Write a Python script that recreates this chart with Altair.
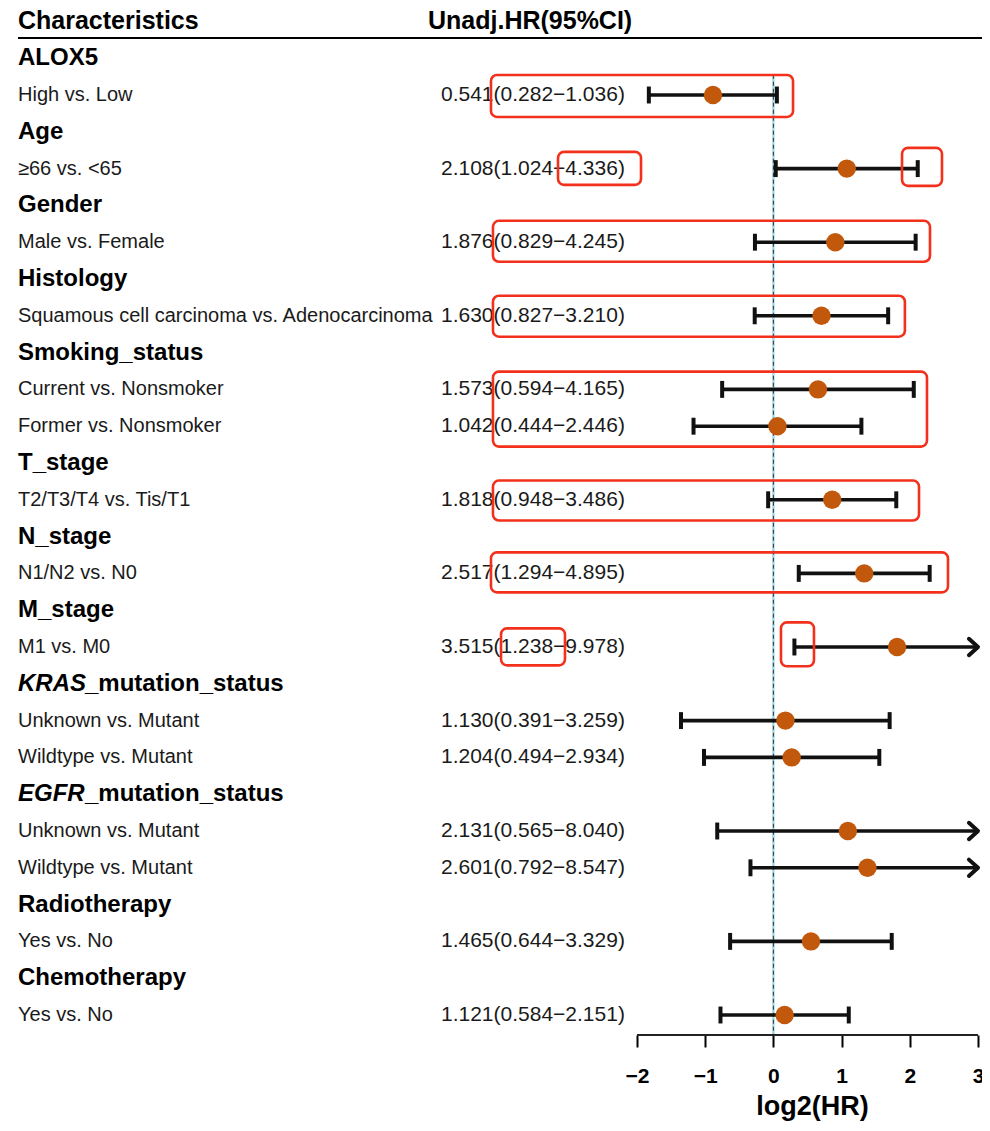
import altair as alt
import numpy as np
import pandas as pd

# ---------------- data ----------------
group_rows = [0, 2, 4, 6, 8, 11, 13, 15, 17, 20, 23, 25]
group_names = ["ALOX5", "Age", "Gender", "Histology", "Smoking_status", "T_stage",
               "N_stage", "M_stage", "", "", "Radiotherapy", "Chemotherapy"]
italic_rows = [17, 20]
italic_prefix = ["KRAS", "EGFR"]
italic_rest = ["_mutation_status", "_mutation_status"]

item_rows = [1, 3, 5, 7, 9, 10, 12, 14, 16, 18, 19, 21, 22, 24, 26]
item_labels = ["High vs. Low", "≥66 vs. <65", "Male vs. Female",
               "Squamous cell carcinoma vs. Adenocarcinoma",
               "Current vs. Nonsmoker", "Former vs. Nonsmoker",
               "T2/T3/T4 vs. Tis/T1", "N1/N2 vs. N0", "M1 vs. M0",
               "Unknown vs. Mutant", "Wildtype vs. Mutant",
               "Unknown vs. Mutant", "Wildtype vs. Mutant",
               "Yes vs. No", "Yes vs. No"]
hr = [0.541, 2.108, 1.876, 1.630, 1.573, 1.042, 1.818, 2.517, 3.515,
      1.130, 1.204, 2.131, 2.601, 1.465, 1.121]
lower = [0.282, 1.024, 0.829, 0.827, 0.594, 0.444, 0.948, 1.294, 1.238,
         0.391, 0.494, 0.565, 0.792, 0.644, 0.584]
upper = [1.036, 4.336, 4.245, 3.210, 4.165, 2.446, 3.486, 4.895, 9.978,
         3.259, 2.934, 8.040, 8.547, 3.329, 2.151]

header_names = ["Characteristics", "Unadj.HR(95%CI)"]
tick_values = [-2, -1, 0, 1, 2, 3]

# highlight boxes (x in log2 units of the shared scale, y in row units)
box_x1 = [-4.141, -3.158, 1.886, -4.112, -4.112, -4.112, -4.112, -4.141, -3.994, 0.111]
box_x2 = [0.288, -1.941, 2.472, 2.296, 1.928, 2.252, 2.135, 2.560, -3.056, 0.595]
box_y1 = [0.456, 2.546, 2.437, 4.419, 6.455, 8.518, 11.477, 13.430, 15.494, 15.331]
box_y2 = [1.596, 3.442, 3.469, 5.532, 7.568, 10.554, 12.563, 14.516, 16.499, 16.525]

# ---------------- layout ----------------
PX_PER_UNIT = 68.2
XMAX = 3.0
XMIN = -2 - 629 / PX_PER_UNIT
W = (XMAX - XMIN) * PX_PER_UNIT
ROW0, ROWH = 58.2, 36.8
H = 1027
YMIN = (8 - ROW0) / ROWH
YMAX = (8 + H - ROW0) / ROWH

FONT = "Liberation Sans"
xs = alt.Scale(domain=[XMIN, XMAX], nice=False, zero=False)
ys = alt.Scale(domain=[YMIN, YMAX], nice=False, zero=False, reverse=True)
xax = alt.Axis(values=tick_values, domain=False, grid=False, tickSize=12, tickWidth=2,
               tickColor="black", labelFont=FONT, labelFontSize=21, labelFontWeight="bold",
               labelColor="black", labelPadding=18, labelFlush=False, labelOverlap=False,
               format="d", title="log2(HR)", titleFont=FONT, titleFontSize=27,
               titleFontWeight="bold", titleColor="black", titleX=804, titleY=71,
               titleBaseline="middle")
yax = None

items = pd.DataFrame({"row": item_rows, "label": item_labels, "hr": hr,
                      "lo": lower, "hi": upper})
items["lhr"] = np.log2(items["hr"])
items["llo"] = np.log2(items["lo"])
items["lhi_raw"] = np.log2(items["hi"])
items["arrow"] = items["lhi_raw"] > XMAX
items["lhi"] = items["lhi_raw"].clip(upper=XMAX)
items["txt"] = [f"{h:.3f}({l:.3f}\u2212{u:.3f})" for h, l, u in zip(hr, lower, upper)]

caps = pd.concat([
    pd.DataFrame({"row": items["row"], "x": items["llo"]}),
    pd.DataFrame({"row": items.loc[~items["arrow"], "row"], "x": items.loc[~items["arrow"], "lhi"]}),
])
caps["y1"] = caps["row"] - 0.23
caps["y2"] = caps["row"] + 0.23
arrows = items[items["arrow"]].copy()

groups = pd.DataFrame({"row": group_rows, "name": group_names})
ital = pd.DataFrame({"row": italic_rows, "pre": italic_prefix, "rest": italic_rest})
boxes = pd.DataFrame({"x1": box_x1, "x2": box_x2, "y1": box_y1, "y2": box_y2})
base_row = pd.DataFrame({"row": [-1]})

def Y(field="row"):
    return alt.Y(f"{field}:Q", scale=ys, axis=yax)

def X(field):
    return alt.X(f"{field}:Q", scale=xs, axis=xax)

# header
head1 = alt.Chart(base_row).mark_text(font=FONT, fontSize=25, fontWeight="bold", align="left",
                                      baseline="middle", color="black").encode(
    x=alt.value(10), y=Y(), text=alt.value(header_names[0]))
head2 = alt.Chart(base_row).mark_text(font=FONT, fontSize=25, fontWeight="bold", align="left",
                                      baseline="middle", color="black").encode(
    x=alt.value(420), y=Y(), text=alt.value(header_names[1]))
head_rule = alt.Chart(base_row).mark_rule(color="black", strokeWidth=2).encode(
    x=alt.value(10), x2=alt.value(990), y=alt.datum(-0.55, scale=ys, axis=yax))

grp = alt.Chart(groups).mark_text(font=FONT, fontSize=24, fontWeight="bold", align="left",
                                  baseline="middle", color="black").encode(
    x=alt.value(10), y=Y(), text="name:N")
grp_i = alt.Chart(ital).mark_text(font=FONT, fontSize=24, fontWeight="bold", fontStyle="italic",
                                  align="left", baseline="middle", color="black").encode(
    x=alt.value(10), y=Y(), text="pre:N")
grp_r = alt.Chart(ital).mark_text(font=FONT, fontSize=24, fontWeight="bold", align="left",
                                  baseline="middle", color="black").encode(
    x=alt.value(77), y=Y(), text="rest:N")

lab = alt.Chart(items).mark_text(font=FONT, fontSize=20, align="left", baseline="middle",
                                 color="#1a1a1a").encode(
    x=alt.value(10), y=Y(), text="label:N")
val = alt.Chart(items).mark_text(font=FONT, fontSize=21, align="left", baseline="middle",
                                 color="#1a1a1a").encode(
    x=alt.value(433), y=Y(), text="txt:N")

zero_bg = alt.Chart(base_row).mark_rule(color="#A6DCE8", strokeWidth=2.5).encode(
    x=alt.datum(0, scale=xs, axis=xax), y=alt.datum(0.45, scale=ys, axis=yax), y2=alt.value(H))
zero_dash = alt.Chart(base_row).mark_rule(color="#333333", strokeWidth=1, strokeDash=[4, 3]).encode(
    x=alt.datum(0, scale=xs, axis=xax), y=alt.datum(0.45, scale=ys, axis=yax), y2=alt.value(H))

ci = alt.Chart(items).mark_rule(color="#111111", strokeWidth=3.6).encode(
    x=X("llo"), x2="lhi:Q", y=Y())
cap = alt.Chart(caps).mark_rule(color="#111111", strokeWidth=4).encode(
    x=X("x"), y=Y("y1"), y2="y2:Q")
arr = alt.Chart(arrows).mark_point(shape="M -1 -0.9 L 0 0 L -1 0.9", filled=False,
                                   color="#111111", strokeWidth=4, size=330, opacity=1,
                                   strokeCap="round", strokeJoin="round").encode(
    x=X("lhi"), y=Y())
pts = alt.Chart(items).mark_point(shape="circle", filled=True, color="#C1580B", size=340,
                                  opacity=1).encode(x=X("lhr"), y=Y())

axis_line = alt.Chart(base_row).mark_rule(color="#222222", strokeWidth=2).encode(
    x=alt.datum(-2, scale=xs, axis=xax), x2=alt.datum(3), y=alt.value(H))

box = alt.Chart(boxes).mark_rect(filled=False, stroke="#F2301B", strokeWidth=2.6,
                                 cornerRadius=6, fillOpacity=0).encode(
    x=X("x1"), x2="x2:Q", y=Y("y1"), y2="y2:Q")

chart = alt.layer(head1, head2, head_rule, grp, grp_i, grp_r, lab, val,
                  zero_bg, zero_dash, ci, cap, arr, pts, axis_line, box).properties(
    width=W, height=H,
    autosize=alt.AutoSizeParams(type="none"),
    padding={"left": 0, "top": 0, "right": 4, "bottom": 86},
).configure(background="white").configure_view(stroke=None, strokeWidth=0)

chart.save("out.html", embed_options={"renderer": "svg", "actions": False})
